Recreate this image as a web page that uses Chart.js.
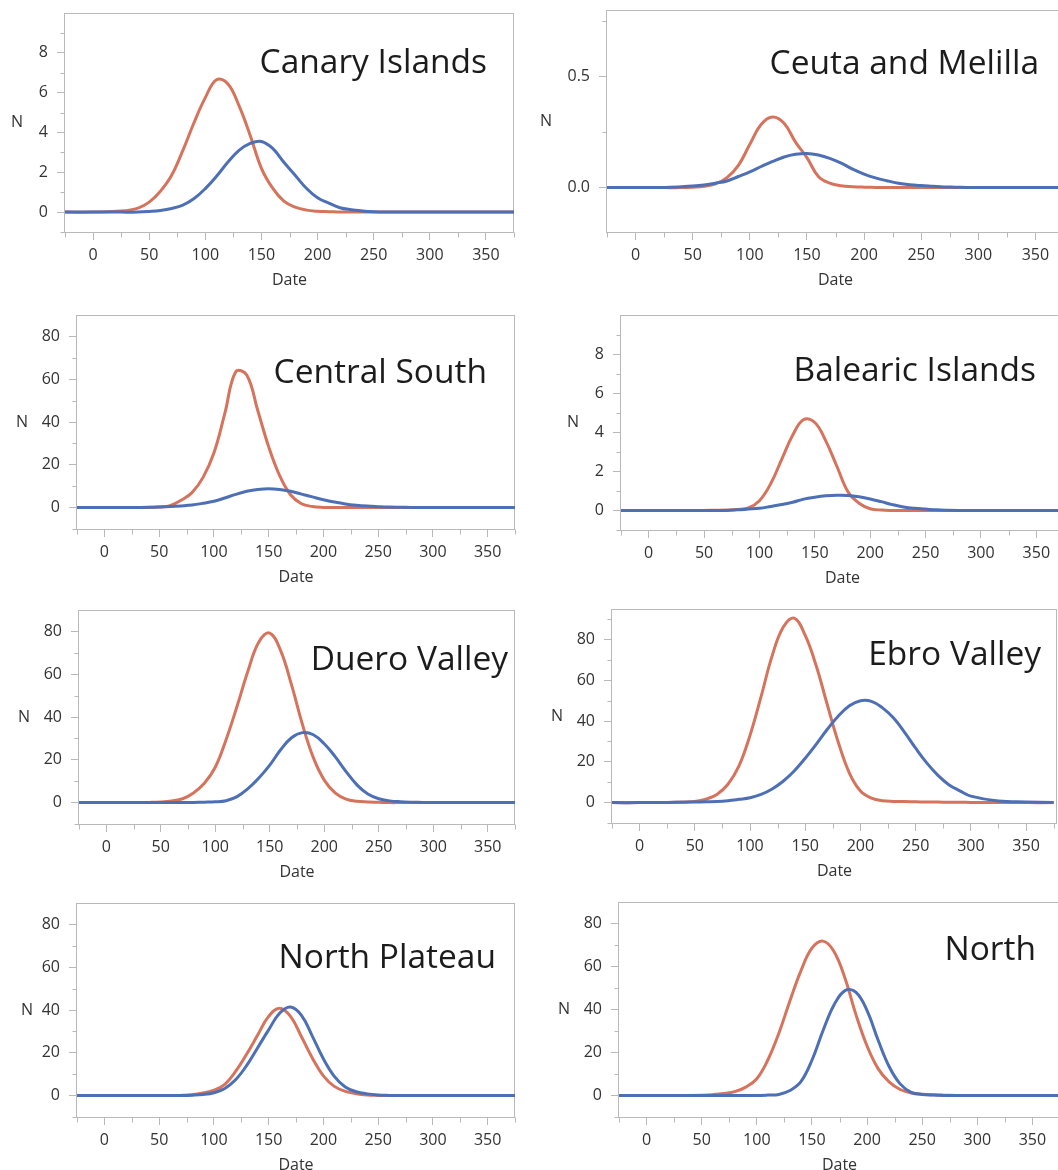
<!DOCTYPE html>
<html>
<head>
<meta charset="utf-8">
<script src="https://cdn.jsdelivr.net/npm/chart.js@4.4.1/dist/chart.umd.min.js"></script>
<style>
  html, body { margin: 0; padding: 0; background: #fff; }
  body { width: 1058px; height: 1170px; position: relative; overflow: hidden; }
  .panel { position: absolute; }
</style>
</head>
<body>
<script>
// Date grid shared by every panel
const days = [-25, 0, 25, 40, 50, 60, 70, 80, 90, 100, 110, 120, 130, 140, 150, 160, 170, 180, 190, 200,
              210, 220, 230, 240, 250, 260, 270, 280, 290, 300, 325, 350, 375];

const regionNames = ['Canary Islands', 'Ceuta and Melilla', 'Central South', 'Balearic Islands',
                     'Duero Valley', 'Ebro Valley', 'North Plateau', 'North'];

// red curves (N per date)
const canaryRed   = [0,0,0.05,0.2,0.5,1.05,1.85,3.1,4.5,5.75,6.65,6.45,5.35,3.85,2.2,1.2,0.55,0.25,0.1,0.04,0.02,0,0,0,0,0,0,0,0,0,0,0,0];
const ceutaRed    = [0,0,0,0,0.002,0.006,0.017,0.045,0.1,0.195,0.285,0.318,0.29,0.205,0.135,0.05,0.02,0.008,0.004,0.002,0.001,0,0,0,0,0,0,0,0,0,0,0,0];
const centralRed  = [0,0,0,0.1,0.3,0.9,3.4,7,14,25.5,44,63.5,62,45.5,28.5,15,6,1.8,0.5,0.1,0,0,0,0,0,0,0,0,0,0,0,0,0];
const balearicRed = [0,0,0,0,0,0.01,0.02,0.05,0.13,0.5,1.35,2.6,3.85,4.65,4.5,3.55,2.25,0.95,0.37,0.09,0.02,0,0,0,0,0,0,0,0,0,0,0,0];
const dueroRed    = [0,0,0,0.1,0.3,0.8,1.8,4.5,9,16.5,29.5,45,61.5,75,79.2,71,55,36.5,21,10.5,4.5,1.6,0.6,0.3,0.15,0,0,0,0,0,0,0,0];
const ebroRed     = [0,0,0.1,0.3,0.6,1.7,4,9,18,33,52,72,86,90.5,82,67,48,29.5,14.5,5.7,2.2,0.9,0.6,0.5,0.4,0.3,0.25,0.2,0.15,0.1,0.05,0,0];
const plateauRed  = [0,0,0,0,0,0.05,0.1,0.4,1.2,2.5,5.3,11.4,19.4,28.3,37,40.8,37,27.5,17.5,9.2,4.3,2,0.9,0.3,0.1,0,0,0,0,0,0,0,0];
const northRed    = [0,0,0,0.05,0.15,0.4,0.9,1.8,3.9,7.8,16.5,29,44,58,68.5,71.8,67,54.5,37.5,23,12.5,6.3,2.8,1.2,0.6,0.3,0.15,0.05,0,0,0,0,0];

// blue curves (N per date)
const canaryBlue   = [0,0,0,0,0.03,0.08,0.18,0.35,0.68,1.18,1.8,2.5,3.1,3.45,3.55,3.2,2.5,1.85,1.2,0.72,0.45,0.22,0.12,0.06,0.02,0,0,0,0,0,0,0,0];
const ceutaBlue    = [0,0,0.001,0.004,0.007,0.012,0.02,0.03,0.05,0.071,0.095,0.118,0.138,0.15,0.154,0.147,0.132,0.11,0.083,0.061,0.044,0.031,0.02,0.013,0.009,0.006,0.003,0.002,0.001,0,0,0,0];
const centralBlue  = [0,0,0.05,0.15,0.3,0.5,0.8,1.2,2,3,4.5,6.2,7.6,8.5,8.85,8.5,7.6,6.3,5,3.7,2.6,1.7,1.1,0.7,0.45,0.25,0.15,0.08,0.04,0,0,0,0];
const balearicBlue = [0,0,0,0,0,0,0,0.03,0.07,0.11,0.2,0.3,0.42,0.58,0.68,0.75,0.78,0.77,0.7,0.59,0.45,0.3,0.18,0.11,0.07,0.03,0.01,0,0,0,0,0,0];
const dueroBlue    = [0,0,0,0,0,0,0.05,0.1,0.2,0.35,0.9,2.8,6.5,11.5,17.5,24.7,30.3,32.7,31.7,27.5,21.5,14.5,8.3,4,1.8,0.8,0.4,0.2,0.1,0,0,0,0];
const ebroBlue     = [0,0,0.1,0.2,0.3,0.4,0.5,0.9,1.6,2.4,4,6.7,10.5,15.5,21.8,28.7,36,42.5,47.5,50,49.7,46.5,41.5,34.5,26.7,19.5,13.5,8.8,5.8,3.2,0.8,0.3,0];
const plateauBlue  = [0,0,0,0,0,0,0.05,0.2,0.5,1.3,3.3,7.5,14.1,22.4,30.7,38.5,41.4,37.5,27.7,17.2,9,4,1.8,0.8,0.3,0.1,0,0,0,0,0,0,0];
const northBlue    = [0,0,0,0,0,0,0,0,0,0,0.2,0.5,2.3,6.4,16.4,30.1,42.1,48.8,48,39.5,25.8,13.5,5.4,1.5,0.5,0.2,0.05,0,0,0,0,0,0];

const redSeries  = [canaryRed, ceutaRed, centralRed, balearicRed, dueroRed, ebroRed, plateauRed, northRed];
const blueSeries = [canaryBlue, ceutaBlue, centralBlue, balearicBlue, dueroBlue, ebroBlue, plateauBlue, northBlue];

// tick labels
const xTicks = [0, 50, 100, 150, 200, 250, 300, 350];
const xMinor = [-25, 25, 75, 125, 175, 225, 275, 325, 375];
const ySmallTicks = [0, 2, 4, 6, 8];
const ySmallMinor = [-1, 1, 3, 5, 7, 9];
const yCeutaTicks = [0, 0.5];
const yCeutaMinor = [0.25, 0.75];
const yLargeTicks = [0, 20, 40, 60, 80];
const yLargeMinor = [-10, 10, 30, 50, 70];
const yEbroMinor  = [-10, 10, 30, 50, 70, 90];

// page layout: plot box [left, top, right, bottom], axis ranges, label offsets
const panels = [
  { box: [65, 13, 514, 232],    xMax: 375, yMin: -1,   yMax: 10,  yTicks: ySmallTicks, yMinor: ySmallMinor, nOff: 48, tdx: 422, tdy: 60 },
  { box: [607, 10, 1064, 232],  xMax: 375, yMin: -0.2, yMax: 0.8, yTicks: yCeutaTicks, yMinor: yCeutaMinor, nOff: 61, tdx: 432, tdy: 64, dec: 1 },
  { box: [77, 315, 515, 529],   xMax: 375, yMin: -10,  yMax: 90,  yTicks: yLargeTicks, yMinor: yLargeMinor, nOff: 55, tdx: 410, tdy: 68 },
  { box: [621, 315, 1064, 530], xMax: 375, yMin: -1,   yMax: 10,  yTicks: ySmallTicks, yMinor: ySmallMinor, nOff: 48, tdx: 415, tdy: 66 },
  { box: [79, 610, 515, 824],   xMax: 375, yMin: -10,  yMax: 90,  yTicks: yLargeTicks, yMinor: yLargeMinor, nOff: 55, tdx: 429, tdy: 60 },
  { box: [612, 609, 1057, 823], xMax: 378, yMin: -10,  yMax: 95,  yTicks: yLargeTicks, yMinor: yEbroMinor,  nOff: 55, tdx: 429, tdy: 56 },
  { box: [77, 903, 515, 1117],  xMax: 375, yMin: -10,  yMax: 90,  yTicks: yLargeTicks, yMinor: yLargeMinor, nOff: 50, tdx: 419, tdy: 65 },
  { box: [619, 902, 1060, 1117],xMax: 375, yMin: -10,  yMax: 90,  yTicks: yLargeTicks, yMinor: yLargeMinor, nOff: 55, tdx: 417, tdy: 58 }
];

const AXIS_W = 70, AXIS_H = 60, PAD_TOP = 20, PAD_RIGHT = 4;
const frameColor = '#b9b9b9';
const textColor = '#333333';
const redColor = '#d6735c';
const blueColor = '#4d6fb6';
const tickFont = { family: 'Open Sans', size: 16 };

// frame, minor ticks, the "N" label and the region name inside the plot
const panelDecor = {
  id: 'panelDecor',
  beforeDatasetsDraw(chart, args, opts) {
    const { ctx, chartArea: a, scales: { x, y } } = chart;
    ctx.save();
    ctx.strokeStyle = frameColor;
    ctx.lineWidth = 1;
    const l = Math.round(a.left) - 0.5, t = Math.round(a.top) + 0.5;
    const r = Math.round(a.right) - 0.5, b = Math.round(a.bottom) + 0.5;
    ctx.strokeRect(l, t, r - l, b - t);
    ctx.beginPath();
    opts.yMinor.forEach(v => {
      const py = Math.round(y.getPixelForValue(v)) + 0.5;
      ctx.moveTo(l - 4, py); ctx.lineTo(l, py);
    });
    opts.xMinor.forEach(v => {
      const px = Math.round(x.getPixelForValue(v)) + 0.5;
      ctx.moveTo(px, b); ctx.lineTo(px, b + 5);
    });
    ctx.stroke();
    ctx.restore();
  },
  afterDraw(chart, args, opts) {
    const { ctx, chartArea: a } = chart;
    ctx.save();
    ctx.fillStyle = textColor;
    ctx.font = '16px "Open Sans"';
    ctx.textAlign = 'center';
    ctx.textBaseline = 'middle';
    ctx.fillText('N', a.left - opts.nOff, (a.top + a.bottom) / 2);
    ctx.fillStyle = '#1c1c1c';
    ctx.font = '33.5px "Open Sans"';
    ctx.textAlign = 'right';
    ctx.textBaseline = 'alphabetic';
    ctx.fillText(opts.title, a.left + opts.tdx, a.top + opts.tdy);
    ctx.restore();
  }
};

panels.forEach((p, i) => {
  const [left, top, right, bottom] = p.box;
  const div = document.createElement('div');
  div.className = 'panel';
  div.style.left = (left - AXIS_W) + 'px';
  div.style.top = (top - PAD_TOP) + 'px';
  div.style.width = (right - left + AXIS_W + PAD_RIGHT) + 'px';
  div.style.height = (bottom - top + PAD_TOP + AXIS_H) + 'px';
  const canvas = document.createElement('canvas');
  div.appendChild(canvas);
  document.body.appendChild(div);

  const points = vals => days.map((d, k) => ({ x: d, y: vals[k] }));

  new Chart(canvas.getContext('2d'), {
    type: 'line',
    data: {
      datasets: [
        { label: 'red', data: points(redSeries[i]), borderColor: redColor, borderWidth: 3, pointRadius: 0, tension: 0.4, order: 2 },
        { label: 'blue', data: points(blueSeries[i]), borderColor: blueColor, borderWidth: 3, pointRadius: 0, tension: 0.4, order: 1 }
      ]
    },
    options: {
      responsive: true,
      maintainAspectRatio: false,
      animation: false,
      events: [],
      layout: { padding: { left: 0, top: PAD_TOP, right: PAD_RIGHT, bottom: 0 } },
      plugins: {
        legend: { display: false },
        tooltip: { enabled: false },
        panelDecor: { yMinor: p.yMinor, xMinor: xMinor, nOff: p.nOff, tdx: p.tdx, tdy: p.tdy, title: regionNames[i] }
      },
      scales: {
        x: {
          type: 'linear',
          min: -25,
          max: p.xMax,
          afterFit: s => { s.height = AXIS_H; },
          afterBuildTicks: s => { s.ticks = xTicks.map(v => ({ value: v })); },
          grid: { drawOnChartArea: false, drawTicks: true, tickLength: 8, color: frameColor },
          border: { display: false },
          ticks: { padding: 6, color: textColor, font: tickFont, autoSkip: false, maxRotation: 0 },
          title: { display: true, text: 'Date', color: textColor, font: tickFont, padding: { top: 0, bottom: 2 } }
        },
        y: {
          type: 'linear',
          min: p.yMin,
          max: p.yMax,
          afterFit: s => { s.width = AXIS_W; },
          afterBuildTicks: s => { s.ticks = p.yTicks.map(v => ({ value: v })); },
          grid: { drawOnChartArea: false, drawTicks: true, tickLength: 8, color: frameColor },
          border: { display: false },
          ticks: {
            padding: 9, color: textColor, font: tickFont, autoSkip: false,
            callback: v => p.dec ? v.toFixed(p.dec) : String(v)
          }
        }
      }
    },
    plugins: [panelDecor]
  });
});
</script>
</body>
</html>
